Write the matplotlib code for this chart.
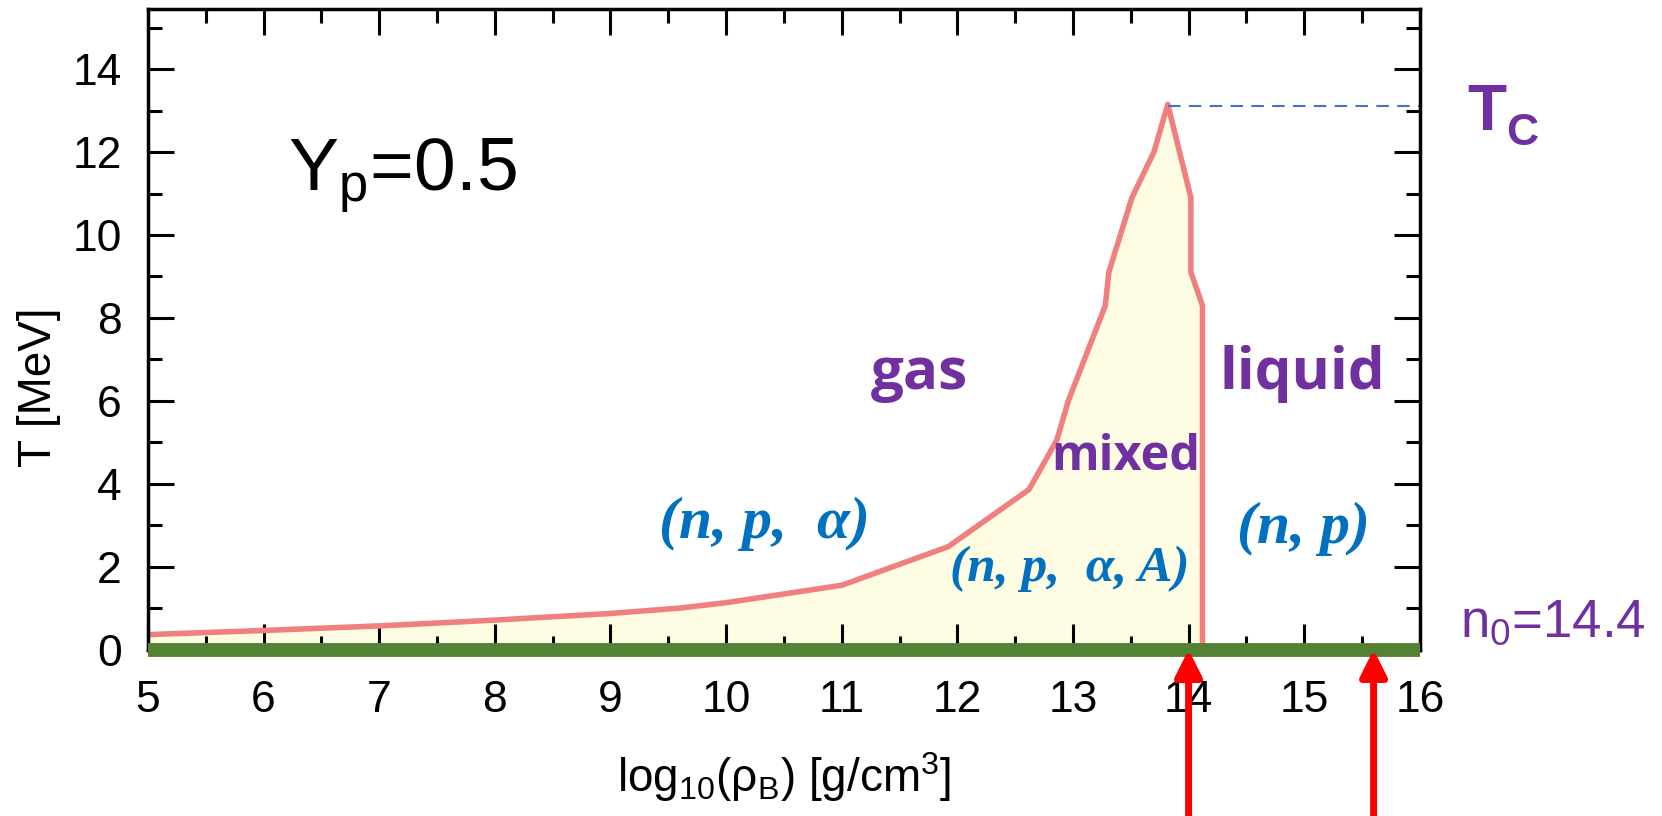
import matplotlib
matplotlib.use('Agg')
import matplotlib.pyplot as plt
from matplotlib.ticker import MultipleLocator

plt.rcParams['font.family'] = ['Liberation Sans', 'DejaVu Sans']
plt.rcParams['mathtext.fontset'] = 'custom'
plt.rcParams['mathtext.rm'] = 'Liberation Sans'
plt.rcParams['mathtext.default'] = 'regular'

# 气相边界 (gas side of the mixed region)
gas_x = [5.0, 6.0, 7.0, 8.0, 9.0, 9.6, 10.0, 11.0, 11.92, 12.62, 12.86, 12.96,
         13.28, 13.31, 13.51, 13.70, 13.82]
gas_T = [0.36, 0.46, 0.57, 0.71, 0.87, 1.0, 1.13, 1.55, 2.48, 3.86, 5.05, 6.0,
         8.3, 9.1, 10.9, 12.0, 13.15]

# 液相边界 (liquid side)
liq_x = [13.82, 14.02, 14.02, 14.12, 14.12]
liq_T = [13.15, 10.9, 9.1, 8.3, 0.0]

T_c = 13.1
arrow_x = [14.0, 15.6]
x_ticks = list(range(5, 17))
y_ticks = list(range(0, 15, 2))

purple = '#7030A0'
blue = '#0070C0'

fig = plt.figure(figsize=(16.62, 8.16), dpi=100)
ax = fig.add_axes([0.0890, 0.2040, 0.7653, 0.7849])

# 混合区填充
poly_x = gas_x + liq_x[1:] + [5.0]
poly_T = gas_T + liq_T[1:] + [0.0]
ax.fill(poly_x, poly_T, color='#FEFDE4', zorder=1, lw=0)
ax.plot(gas_x + liq_x[1:], gas_T + liq_T[1:], color='#F08080', lw=4,
        zorder=2, solid_joinstyle='round')

# T_c 虚线
ax.plot([gas_x[-1], 16], [T_c, T_c], color='#4472C4', lw=1.5, dashes=(6, 4), zorder=2)

# 底部绿线
ax.plot([5, 16], [0, 0], color='#548235', lw=10, solid_capstyle='butt',
        clip_on=False, zorder=3)

ax.set_xlim(5, 16)
ax.set_ylim(0, 15.45)
ax.set_xticks(x_ticks)
ax.set_yticks(y_ticks)
ax.xaxis.set_minor_locator(MultipleLocator(0.5))
ax.yaxis.set_minor_locator(MultipleLocator(1))
ax.tick_params(which='both', direction='in', top=True, right=True, width=2.2,
               labelsize=32)
ax.tick_params(which='major', length=19)
ax.tick_params(which='minor', length=10)
ax.tick_params(axis='x', pad=22)
ax.tick_params(axis='y', pad=19)
for s in ax.spines.values():
    s.set_linewidth(2.5)

ax.set_xlabel('log$_{10}$(ρ$_{B}$) [g/cm$^{3}$]', fontsize=33, va='top')
ax.xaxis.set_label_coords(0.5, -0.157)
ax.set_ylabel('T [MeV]', fontsize=33)
ax.yaxis.set_label_coords(-0.068, 0.41)

# 文本标注
ax.text(6.21, 11.06, 'Y$_{p}$=0.5', fontsize=54, va='baseline', ha='left')

cfont = ['Open Sans', 'DejaVu Sans']
ax.text(11.67, 6.28, 'gas', fontsize=42, fontweight='bold', color=purple,
        family=cfont, ha='center', va='baseline')
ax.text(14.98, 6.28, 'liquid', fontsize=42, fontweight='bold', color=purple,
        family=cfont, ha='center', va='baseline')
ax.text(13.46, 4.33, 'mixed', fontsize=35, fontweight='bold', color=purple,
        family=cfont, ha='center', va='baseline')

sfont = ['Liberation Serif', 'DejaVu Serif']
ax.text(10.33, 3.03, '(n, p,  α)', fontsize=43, fontweight='bold', style='italic',
        color=blue, family=sfont, ha='center', va='center')
ax.text(12.97, 1.94, '(n, p,  α, A)', fontsize=37, fontweight='bold', style='italic',
        color=blue, family=sfont, ha='center', va='center')
ax.text(14.99, 2.91, '(n, p)', fontsize=43, fontweight='bold', style='italic',
        color=blue, family=sfont, ha='center', va='center')

ax.text(16.41, 12.53, 'T', fontsize=46, fontweight='bold', color=purple,
        ha='left', va='baseline', clip_on=False)
ax.text(16.75, 12.17, 'C', fontsize=32, fontweight='bold', color=purple,
        ha='left', va='baseline', clip_on=False)
ax.text(16.35, 0.30, 'n$_{0}$=14.4', fontsize=38, color=purple,
        ha='left', va='baseline', clip_on=False)

# 红色箭头
for xa in arrow_x:
    ax.annotate('', xy=(xa, 0), xytext=(xa, 0), xycoords='data',
                textcoords=('data', 'figure fraction'),
                arrowprops=dict(arrowstyle='-|>', color='#FF0000', lw=5,
                                mutation_scale=40, shrinkA=0, shrinkB=0),
                annotation_clip=False, zorder=4)

fig.savefig('out.png', dpi=100)
